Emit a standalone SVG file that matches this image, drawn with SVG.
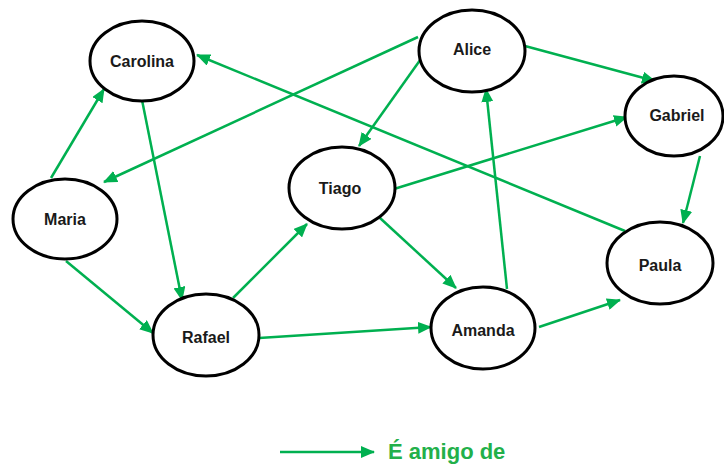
<svg xmlns="http://www.w3.org/2000/svg" width="724" height="464" viewBox="0 0 724 464">
  <style>
    .node ellipse { fill: #ffffff; stroke: #000000; stroke-width: 3; }
    .node text { font-family: "Liberation Sans", Arial, sans-serif; font-weight: bold; font-size: 16px; fill: #1a1a1a; text-anchor: middle; dominant-baseline: central; }
    .edge { stroke: #00b050; stroke-width: 2.5; fill: none; marker-end: url(#arrow); }
    .legend-text { font-family: "Liberation Sans", Arial, sans-serif; font-weight: bold; font-size: 22px; fill: #22b04a; }
  </style>
  <defs>
    <marker id="arrow" markerUnits="userSpaceOnUse" markerWidth="14" markerHeight="12" refX="13" refY="6" orient="auto">
      <path d="M0,0 L14,6 L0,12 z" fill="#00b050"/>
    </marker>
  </defs>
  <rect width="724" height="464" fill="#ffffff"/>

  <!-- friendship connectors -->
  <g id="edges">
    <line class="edge" x1="51" y1="178" x2="104" y2="89"/>
    <line class="edge" x1="418" y1="37" x2="104" y2="182"/>
    <line class="edge" x1="625" y1="231" x2="197" y2="55"/>
    <line class="edge" x1="142" y1="100" x2="182" y2="300"/>
    <line class="edge" x1="66" y1="261" x2="153" y2="333"/>
    <line class="edge" x1="233" y1="298" x2="307" y2="224"/>
    <line class="edge" x1="259" y1="338" x2="431" y2="327"/>
    <line class="edge" x1="423" y1="56" x2="359" y2="146"/>
    <line class="edge" x1="394" y1="189" x2="627" y2="117"/>
    <line class="edge" x1="380" y1="218" x2="456" y2="288"/>
    <line class="edge" x1="507" y1="289" x2="486" y2="89"/>
    <line class="edge" x1="525" y1="46" x2="655" y2="81"/>
    <line class="edge" x1="700" y1="156" x2="683" y2="223"/>
    <line class="edge" x1="539" y1="327" x2="620" y2="300"/>
  </g>

  <g id="carolina" class="node">
    <ellipse cx="142" cy="61" rx="52" ry="40"/>
    <text x="142" y="61">Carolina</text>
  </g>
  <g id="maria" class="node">
    <ellipse cx="65" cy="219" rx="52" ry="40"/>
    <text x="65" y="219">Maria</text>
  </g>
  <g id="alice" class="node">
    <ellipse cx="472" cy="51" rx="53" ry="41"/>
    <text x="472" y="49">Alice</text>
  </g>
  <g id="gabriel" class="node">
    <ellipse cx="674" cy="116" rx="49" ry="40"/>
    <text x="677" y="115">Gabriel</text>
  </g>
  <g id="tiago" class="node">
    <ellipse cx="342" cy="188" rx="53" ry="41"/>
    <text x="340" y="188">Tiago</text>
  </g>
  <g id="rafael" class="node">
    <ellipse cx="206" cy="335" rx="53" ry="41"/>
    <text x="206" y="337">Rafael</text>
  </g>
  <g id="amanda" class="node">
    <ellipse cx="483" cy="328" rx="52" ry="41"/>
    <text x="483" y="330">Amanda</text>
  </g>
  <g id="paula" class="node">
    <ellipse cx="660" cy="263" rx="53" ry="41"/>
    <text x="660" y="265">Paula</text>
  </g>

  <!-- legend -->
  <g id="legend">
    <line class="edge" x1="280" y1="452" x2="374" y2="452"/>
    <text class="legend-text" x="388" y="459">É amigo de</text>
  </g>
</svg>
